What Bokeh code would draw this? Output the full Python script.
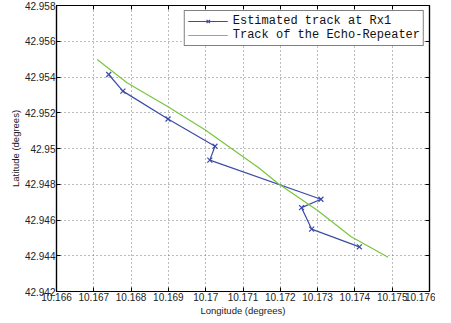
from bokeh.plotting import figure
from bokeh.models import Range1d, FixedTicker, LinearAxis, Legend, LegendItem
from bokeh.embed import file_html
from bokeh.resources import INLINE

# Estimated track at Rx1
est_lon = [10.1674, 10.16778, 10.16899, 10.17025, 10.17011, 10.17309, 10.17257, 10.17284, 10.17412]
est_lat = [42.95414, 42.95321, 42.95165, 42.95013, 42.94935, 42.94716, 42.94669, 42.94549, 42.94450]

# Track of the Echo-Repeater
rep_lon = [10.16709, 10.16790, 10.16899, 10.16999, 10.17142, 10.17194, 10.17302, 10.17389, 10.17489]
rep_lat = [42.95498, 42.95366, 42.95234, 42.95103, 42.94892, 42.94804, 42.94650, 42.94508, 42.94392]

x_ticks = [10.166, 10.167, 10.168, 10.169, 10.170, 10.171, 10.172, 10.173, 10.174, 10.175, 10.176]
x_tick_labels = ["10.166", "10.167", "10.168", "10.169", "10.17", "10.171", "10.172", "10.173", "10.174", "10.175", "10.176"]
y_ticks = [42.942, 42.944, 42.946, 42.948, 42.950, 42.952, 42.954, 42.956, 42.958]
y_tick_labels = ["42.942", "42.944", "42.946", "42.948", "42.95", "42.952", "42.954", "42.956", "42.958"]

BLUE = "#3b4ba6"
GREEN = "#78c53d"
FONT = "Liberation Sans"

p = figure(width=435, height=318, output_backend="svg", toolbar_location=None,
           x_range=Range1d(10.166, 10.176), y_range=Range1d(42.942, 42.958),
           min_border_left=56, min_border_right=6, min_border_top=5, min_border_bottom=14)
p.background_fill_color = "white"
p.border_fill_color = "white"
p.outline_line_color = "black"
p.outline_line_width = 1.2

r1 = p.line(est_lon, est_lat, line_color=BLUE, line_width=1.2)
r1m = p.scatter(est_lon, est_lat, marker="x", size=7, line_color=BLUE, line_width=1.2)
r2 = p.line(rep_lon, rep_lat, line_color=GREEN, line_width=1.2)

x_labels = dict(zip(x_ticks, x_tick_labels))
y_labels = dict(zip(y_ticks, y_tick_labels))

def style_axis(ax, ticks, labels, show_labels):
    ax.ticker = FixedTicker(ticks=ticks)
    ax.major_tick_in = 4
    ax.major_tick_out = 0
    ax.minor_tick_line_color = None
    ax.axis_line_color = "black"
    ax.axis_line_width = 1.2
    ax.major_tick_line_color = "black"
    ax.major_label_text_font = FONT
    ax.major_label_text_color = "#222222"
    ax.axis_label_text_font = FONT
    ax.axis_label_text_font_style = "normal"
    ax.axis_label_text_color = "#222222"
    ax.major_label_text_font_size = "10px"
    ax.axis_label_text_font_size = "9.5px"
    if show_labels:
        ax.major_label_overrides = labels
        ax.major_label_standoff = 1
        ax.axis_label_standoff = 1
    else:
        ax.major_label_overrides = {t: "" for t in ticks}
        ax.major_label_standoff = 0

style_axis(p.xaxis[0], x_ticks, x_labels, True)
style_axis(p.yaxis[0], y_ticks, y_labels, True)
p.xaxis[0].axis_label = "Longitude (degrees)"
p.yaxis[0].axis_label = "Latitude (degrees)"

top_ax = LinearAxis()
right_ax = LinearAxis()
style_axis(top_ax, x_ticks, x_labels, False)
style_axis(right_ax, y_ticks, y_labels, False)
p.add_layout(top_ax, "above")
p.add_layout(right_ax, "right")

p.xgrid[0].ticker = FixedTicker(ticks=x_ticks)
p.ygrid[0].ticker = FixedTicker(ticks=y_ticks)
for g in (p.xgrid[0], p.ygrid[0]):
    g.grid_line_color = "#777777"
    g.grid_line_dash = "1 3"
    g.grid_line_width = 1

legend = Legend(items=[
    LegendItem(label="Estimated track at Rx1", renderers=[r1, r1m]),
    LegendItem(label="Track of the Echo-Repeater", renderers=[r2]),
], location="top_right")
legend.label_text_font = "Liberation Mono"
legend.label_text_font_size = "12px"
legend.label_text_color = "#111111"
legend.glyph_width = 40
legend.glyph_height = 12
legend.label_height = 12
legend.label_standoff = 5
legend.spacing = 0
legend.padding = 3
legend.margin = 5
legend.border_line_color = "black"
legend.border_line_width = 1
legend.background_fill_alpha = 1
p.add_layout(legend)

open("out.html", "w").write(file_html(p, INLINE))
